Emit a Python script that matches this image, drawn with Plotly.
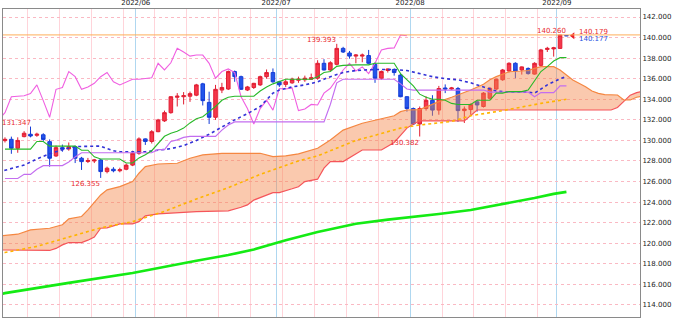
import plotly.graph_objects as go
import pandas as pd

# ---------------- data ----------------
dates = pd.bdate_range("2022-05-03", "2022-09-02")   # 89 trading days

open_ = [129.98, 130.11, 129.24, 130.37, 130.60, 130.50, 130.55, 129.88, 128.49, 129.30,
         129.17, 129.40, 128.27, 127.95, 128.00, 128.10, 126.97, 127.20, 127.05, 127.20,
         127.60, 128.75, 130.15, 129.90, 130.85, 131.90, 132.70, 134.20, 134.25, 134.30,
         134.40, 135.50, 133.70, 132.25, 134.90, 135.00, 136.70, 136.20, 134.90, 135.15,
         135.40, 136.20, 136.60, 135.70, 135.45, 135.60, 135.85, 135.90, 135.95, 136.05,
         137.50, 136.85, 137.40, 138.95, 138.50, 138.20, 138.20, 138.25, 137.40, 136.05,
         136.80, 136.90, 136.35, 134.25, 133.10, 131.60, 133.10, 133.90, 132.95, 135.10,
         135.00, 135.05, 132.90, 133.00, 133.75, 133.30, 134.10, 135.00, 135.90, 136.75,
         137.50, 136.85, 137.00, 136.45, 137.30, 138.85, 138.90, 138.95, 140.20]
high = [130.30, 130.37, 130.30, 130.90, 131.347, 130.75, 130.70, 130.10, 129.50, 129.60,
        129.80, 129.50, 128.40, 128.30, 128.20, 128.20, 127.45, 127.40, 127.35, 127.75,
        129.00, 130.30, 130.20, 131.00, 132.10, 132.90, 134.30, 134.60, 134.70, 134.75,
        135.50, 135.60, 134.74, 135.40, 135.60, 136.80, 136.80, 136.30, 135.30, 135.60,
        136.30, 136.90, 137.00, 135.80, 135.90, 136.10, 136.20, 136.30, 136.50, 137.80,
        137.90, 137.70, 139.393, 139.10, 138.70, 138.40, 138.45, 138.80, 137.60, 136.80,
        137.00, 137.00, 136.50, 134.30, 133.20, 133.30, 134.30, 134.40, 135.30, 135.45,
        135.20, 135.20, 133.30, 133.60, 133.90, 134.70, 135.20, 136.00, 136.95, 137.60,
        137.60, 137.20, 137.10, 137.60, 138.90, 139.10, 139.10, 140.260, 140.22]
low = [129.80, 128.70, 128.80, 130.30, 130.30, 130.35, 129.90, 127.45, 128.40, 128.90,
       129.00, 127.80, 127.13, 127.80, 127.80, 126.355, 126.80, 126.90, 126.90, 127.10,
       127.50, 128.60, 129.56, 129.70, 130.80, 131.80, 132.60, 133.30, 133.50, 133.75,
       134.30, 133.40, 131.60, 132.00, 134.60, 134.90, 135.70, 134.90, 134.80, 135.00,
       135.30, 136.00, 135.60, 135.20, 135.20, 135.50, 135.60, 135.70, 135.90, 135.90,
       136.80, 136.70, 137.30, 138.50, 137.95, 137.50, 137.60, 137.40, 135.60, 135.90,
       136.60, 136.30, 134.20, 132.80, 131.50, 130.382, 132.90, 132.40, 132.50, 134.60,
       134.90, 131.80, 131.70, 132.50, 132.80, 133.20, 134.00, 134.90, 135.80, 136.60,
       136.05, 136.40, 136.40, 136.40, 137.20, 138.60, 138.15, 138.90, 140.15]
close = [130.11, 129.24, 130.00, 130.70, 130.43, 130.60, 130.10, 128.27, 129.30, 129.15,
         129.40, 128.27, 127.94, 128.05, 128.10, 126.97, 127.30, 127.05, 127.15, 127.60,
         128.75, 130.15, 129.90, 130.85, 131.99, 132.70, 134.25, 134.30, 134.35, 134.55,
         135.40, 133.87, 132.25, 134.97, 135.15, 136.70, 136.20, 134.97, 135.20, 135.55,
         136.20, 136.60, 135.70, 135.40, 135.70, 135.95, 135.95, 136.05, 136.10, 137.50,
         136.85, 137.55, 138.95, 138.60, 138.20, 138.30, 138.30, 137.50, 136.05, 136.70,
         136.95, 136.60, 134.25, 133.10, 131.60, 133.10, 133.90, 132.95, 135.05, 135.00,
         135.10, 132.90, 133.05, 133.50, 133.45, 134.60, 135.07, 135.95, 136.85, 137.50,
         136.75, 137.15, 136.50, 137.50, 138.80, 138.95, 139.00, 140.25, 140.177]
ask_price = 140.179

tenkan = [129.15]*5 + [129.9]*2 + [129.45]*5 + [129.05]*2 + [128.4] + [128.2]*4 + [127.8]*2 + \
         [128.3, 128.6, 129.0, 129.7, 130.4, 130.7, 130.9, 131.2, 131.7, 132.1, 132.3, 132.8,
          133.3, 133.9, 134.2] + [134.3]*4 + [134.8, 135.2, 135.5, 135.75] + [135.95]*5 + \
         [136.2, 136.6, 136.7, 137.2, 137.3] + [137.35]*4 + [137.5]*4 + \
         [136.5, 135.9, 135.3, 134.5, 134.2, 134.0, 134.0, 133.9, 133.6] + [133.5]*3 + \
         [133.9]*3 + [134.6]*2 + [134.75]*3 + [134.9, 135.8, 136.7, 137.17, 137.72, 138.05, 138.05]
kijun = [126.3]*3 + [126.7]*2 + [127.2] + [127.55]*4 + [127.9, 128.4] + [128.8]*12 + \
        [129.1]*2 + [129.9, 130.05, 130.3] + [130.4]*5 + [131.0, 131.5] + [131.8]*15 + \
        [133.5, 135.6] + [135.95]*9 + [135.5, 135.0] + [134.9]*12 + [134.7]*7 + [134.25] + \
        [134.65]*3 + [135.3]*2

ma_blue_x = [-1, 0, 3, 5, 7, 9, 11, 13, 15, 16, 17, 18, 22, 24, 26, 28, 30, 32, 34, 36, 38, 40,
             42, 43, 45, 47, 49, 51, 53, 55, 58, 61, 63, 65, 67, 69, 71, 73, 75, 77, 79, 82, 83,
             85, 87, 88]
ma_blue_y = [126.9, 127.1, 127.6, 128.2, 128.7, 129.1, 129.4, 129.45, 129.45, 129.2, 129.0, 128.9,
             128.9, 129.05, 129.2, 129.5, 130.0, 130.6, 131.3, 132.0, 132.6, 133.3, 134.6, 134.9,
             135.2, 135.4, 135.7, 136.2, 136.6, 136.8, 136.9, 136.9, 136.8, 136.5, 136.2, 136.0,
             135.9, 135.6, 135.2, 134.8, 134.7, 134.7, 134.6, 135.4, 136.0, 136.2]
ma_orange_x = [-1, 0, 5, 10, 15, 20, 25, 30, 35, 40, 46, 49, 55, 58, 62, 65, 70, 73, 78, 84, 88]
ma_orange_y = [119.0, 119.1, 119.7, 120.6, 121.5, 122.1, 123.1, 124.3, 125.4, 126.7, 128.0, 128.5,
               130.0, 130.5, 131.2, 131.5, 131.85, 132.4, 132.9, 133.6, 134.0]
ma_long_x = [-1, 0, 10, 20, 30, 35, 39, 44, 49, 55, 60, 65, 68, 73, 79, 83, 86, 88]
ma_long_y = [115.0, 115.15, 116.15, 117.1, 118.3, 118.85, 119.4, 120.3, 121.1, 121.9, 122.3,
             122.6, 122.85, 123.24, 123.9, 124.4, 124.8, 125.0]

span_a_x = [-1, 0, 2, 4, 7, 9, 10, 12, 13, 15, 16, 18, 20, 21, 22, 24, 27, 29, 31, 34, 40, 42, 44,
            46, 48, 49, 51, 53, 56, 59, 61, 62, 63, 65, 66, 68, 70, 71, 73, 75, 76, 77, 79, 81,
            82, 83, 84, 86, 87, 88, 89, 91, 92, 93, 94, 96, 97, 98, 99, 100]
span_a_y = [120.7, 120.75, 120.88, 121.3, 121.46, 121.8, 122.37, 122.6, 123.24, 124.7, 125.19,
            125.51, 126.0, 126.81, 127.45, 127.71, 127.78, 128.27, 128.59, 128.75, 128.75, 128.43,
            128.5, 128.7, 129.07, 129.24, 130.05, 131.0, 131.67, 132.15, 132.4, 132.8, 132.96,
            133.0, 133.28, 133.77, 134.2, 134.42, 134.9, 135.46, 135.9, 136.2, 136.68, 136.75,
            136.8, 137.01, 137.17, 137.17, 136.85, 136.36, 135.88, 135.23, 134.8, 134.58, 134.45,
            134.42, 133.93, 133.93, 134.2, 134.32]
span_b_x = [-1, 0, 7, 8, 9, 10, 12, 13, 14, 15, 16, 18, 20, 21, 22, 24, 27, 30, 35, 36, 37, 38, 39,
            42, 43, 45, 46, 47, 49, 50, 51, 53, 55, 56, 59, 60, 61, 62, 63, 64, 65, 72, 73, 74,
            95, 96, 97, 98, 99, 100]
span_b_y = [119.35, 119.35, 119.3, 119.5, 119.84, 120.07, 120.07, 120.3, 120.6, 121.46, 121.5,
            121.88, 121.88, 122.1, 122.66, 122.85, 122.95, 123.08, 123.15, 123.3, 123.5, 123.73,
            124.2, 124.93, 124.93, 125.3, 125.5, 126.0, 126.23, 127.3, 127.94, 127.94, 128.75,
            129.07, 129.07, 129.4, 129.8, 130.5, 131.2, 131.6, 131.9, 131.9, 132.4, 132.96,
            132.96, 133.2, 133.8, 134.4, 134.65, 134.8]

LAG = 25
# ---------------------------------------------------------------
idx = list(range(len(dates)))
assert len(open_) == len(high) == len(low) == len(close) == len(tenkan) == len(kijun) == len(idx)

fig = go.Figure()
fig.add_trace(go.Candlestick(
    x=idx, open=open_, high=high, low=low, close=close,
    increasing=dict(line=dict(color="rgb(225,30,50)", width=1), fillcolor="rgb(245,55,75)"),
    decreasing=dict(line=dict(color="rgb(20,60,215)", width=1), fillcolor="rgb(35,85,235)"),
    whiskerwidth=0, showlegend=False, hoverinfo="skip"))

# cloud
fig.add_trace(go.Scatter(x=span_b_x, y=span_b_y, mode="lines",
                         line=dict(color="rgb(245,85,90)", width=1.2), showlegend=False, hoverinfo="skip"))
fig.add_trace(go.Scatter(x=span_a_x, y=span_a_y, mode="lines", fill="tonexty",
                         fillcolor="rgba(245,135,75,0.45)",
                         line=dict(color="rgb(245,135,65)", width=1.2), showlegend=False, hoverinfo="skip"))
# lagging span
fig.add_trace(go.Scatter(x=list(range(-1, len(close) - LAG)), y=close[LAG - 1:], mode="lines",
                         line=dict(color="rgb(240,95,225)", width=1.1), showlegend=False, hoverinfo="skip"))
# moving averages
fig.add_trace(go.Scatter(x=ma_long_x, y=ma_long_y, mode="lines",
                         line=dict(color="rgb(20,235,20)", width=2.6), showlegend=False, hoverinfo="skip"))
fig.add_trace(go.Scatter(x=ma_orange_x, y=ma_orange_y, mode="lines",
                         line=dict(color="rgb(255,180,0)", width=1.6, dash="dot"), showlegend=False, hoverinfo="skip"))
fig.add_trace(go.Scatter(x=ma_blue_x, y=ma_blue_y, mode="lines",
                         line=dict(color="rgb(50,50,215)", width=1.6, dash="dot"), showlegend=False, hoverinfo="skip"))
# base / conversion lines
fig.add_trace(go.Scatter(x=idx, y=kijun, mode="lines", line=dict(color="rgb(195,110,240)", width=1.2),
                         showlegend=False, hoverinfo="skip"))
fig.add_trace(go.Scatter(x=idx, y=tenkan, mode="lines", line=dict(color="rgb(40,185,40)", width=1.1),
                         showlegend=False, hoverinfo="skip"))
# current price marker
fig.add_trace(go.Scatter(x=[idx[-1] + 1], y=[ask_price], mode="markers",
                         marker=dict(symbol="triangle-left", size=6, color="rgb(235,30,40)"),
                         showlegend=False, hoverinfo="skip"))

# horizontal line at highest high
fig.add_hline(y=max(high), line=dict(color="rgb(255,175,90)", width=1))

# month and week grid positions from dates
month_pos, month_txt, week_pos = [], [], []
for k in range(1, len(dates)):
    if dates[k].month != dates[k - 1].month:
        month_pos.append(k - 0.5)
        month_txt.append(dates[k].strftime("%Y/%m"))
    if dates[k].weekday() == 0:
        week_pos.append(k - 0.5)

RED = "rgb(232,40,45)"
lab = dict(family="DejaVu Sans", size=7, color=RED)
i_hi1 = max(range(0, 10), key=lambda k: high[k])
i_lo1 = min(range(0, 30), key=lambda k: low[k])
i_hi2 = max(range(30, 70), key=lambda k: high[k])
i_lo2 = min(range(55, 80), key=lambda k: low[k])
i_hi3 = max(range(len(high)), key=lambda k: high[k])
anns = []
anns.append(dict(x=i_hi1, y=high[i_hi1], text=f"{high[i_hi1]:.3f}", xanchor="right", yanchor="bottom",
                 showarrow=False, font=lab, yshift=-2, xshift=2))
anns.append(dict(x=i_hi2, y=high[i_hi2], text=f"{high[i_hi2]:.3f}", xanchor="right", yanchor="bottom",
                 showarrow=False, font=lab, yshift=-2, xshift=1))
for i in (i_lo1, i_lo2):
    anns.append(dict(x=i, y=low[i], text=f"{low[i]:.3f}", xanchor="right", yanchor="top",
                     showarrow=False, font=lab, yshift=0, xshift=1))
anns.append(dict(x=i_hi3, y=high[i_hi3], text=f"{high[i_hi3]:.3f}", xanchor="right", yanchor="bottom",
                 showarrow=False, font=lab, yshift=-2, xshift=8))
anns.append(dict(x=idx[-1] + 1, y=ask_price, text=f"{ask_price:.3f}", xanchor="left", yanchor="middle",
                 showarrow=False, font=lab, xshift=4, yshift=4))
anns.append(dict(x=idx[-1] + 1, y=close[-1], text=f"{close[-1]:.3f}", xanchor="left", yanchor="middle",
                 showarrow=False, font=dict(family="DejaVu Sans", size=7, color="rgb(40,80,225)"),
                 xshift=4, yshift=-3))

fig.update_layout(
    width=680, height=321, margin=dict(l=3, r=40, t=9, b=4, autoexpand=False),
    paper_bgcolor="white", plot_bgcolor="white", boxgap=0.2,
    font=dict(family="DejaVu Sans", size=7, color="#222"),
    annotations=anns, showlegend=False,
    xaxis=dict(range=[-0.31, 99.53], side="top", tickmode="array", tickvals=month_pos, ticktext=month_txt,
               showgrid=True, gridcolor="rgb(175,215,240)", gridwidth=1.2,
               minor=dict(tickmode="array", tickvals=week_pos, showgrid=True,
                          gridcolor="rgb(255,212,218)", gridwidth=1.2),
               showline=True, mirror=True, linecolor="#8a8a8a", linewidth=1, zeroline=False,
               ticks="", rangeslider=dict(visible=False), fixedrange=True, automargin=False),
    yaxis=dict(range=[112.83, 142.78], side="right", tickmode="array", tickvals=list(range(114, 143, 2)),
               tickformat=".3f", showgrid=True, gridcolor="rgb(250,185,195)", griddash="dot", gridwidth=1,
               showline=True, mirror=True, linecolor="#8a8a8a", linewidth=1, zeroline=False, ticks="",
               fixedrange=True, automargin=False),
)

fig.write_html("out.html")
